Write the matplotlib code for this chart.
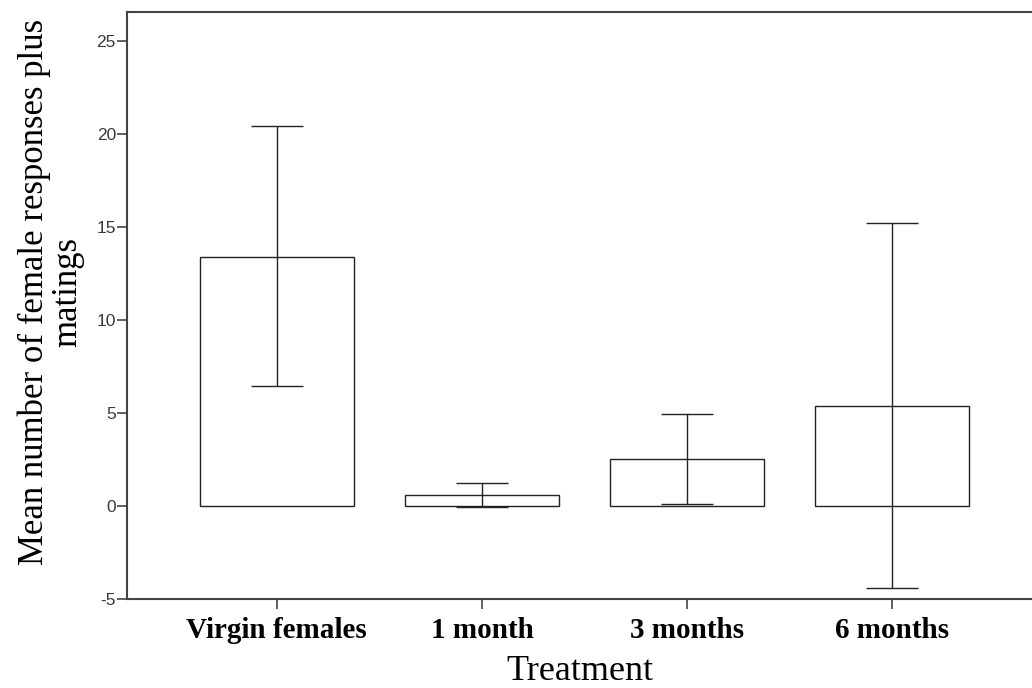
import numpy as np
import matplotlib
matplotlib.use("Agg")
import matplotlib.pyplot as plt

plt.rcParams["axes.unicode_minus"] = False

# datos
categorias = ["Virgin females", "1 month", "3 months", "6 months"]
medias = [13.4, 0.6, 2.55, 5.4]
err_inf = [6.45, -0.05, 0.1, -4.4]
err_sup = [20.4, 1.25, 4.95, 15.2]
yticks = [-5, 0, 5, 10, 15, 20, 25]

fig = plt.figure(figsize=(10.32, 6.88), dpi=100)
ax = fig.add_axes([127/1032, 89/688, 1 - 127/1032, (599-12)/688])

x = np.arange(len(categorias))
medias = np.array(medias)
yerr = [medias - np.array(err_inf), np.array(err_sup) - medias]

ax.bar(x, medias, width=0.75, color="white", edgecolor="#222222", linewidth=1.0, zorder=2)
ax.errorbar(x, medias, yerr=yerr, fmt="none", ecolor="#222222", elinewidth=1.0,
            capsize=18.5, capthick=1.0, zorder=3)

ax.set_xlim(-0.73, 3.68)
ax.set_ylim(-5, 26.55)
ax.set_yticks(yticks)
ax.set_xticks(x)
ax.set_xticklabels(categorias, family="Liberation Serif", fontsize=21, fontweight="bold")
for lab in ax.get_yticklabels():
  lab.set_family("Liberation Sans")
  lab.set_fontsize(12.5)
  lab.set_color("#3a3a3a")

ax.spines["right"].set_visible(False)
for s in ["left", "bottom", "top"]:
  ax.spines[s].set_color("#444444")
  ax.spines[s].set_linewidth(1.5)
ax.tick_params(axis="y", direction="out", length=7, width=1.2, color="#444444", pad=1)
ax.tick_params(axis="x", direction="out", length=7, width=1.2, color="#444444", pad=6)

ax.set_xlabel("Treatment", family="Liberation Serif", fontsize=26, labelpad=8)
ax.set_ylabel("Mean number of female responses plus\nmatings", family="Liberation Serif",
              fontsize=25, linespacing=1.0)
ax.yaxis.set_label_coords(-0.047, 0.523)

fig.savefig("out.png", dpi=100)
